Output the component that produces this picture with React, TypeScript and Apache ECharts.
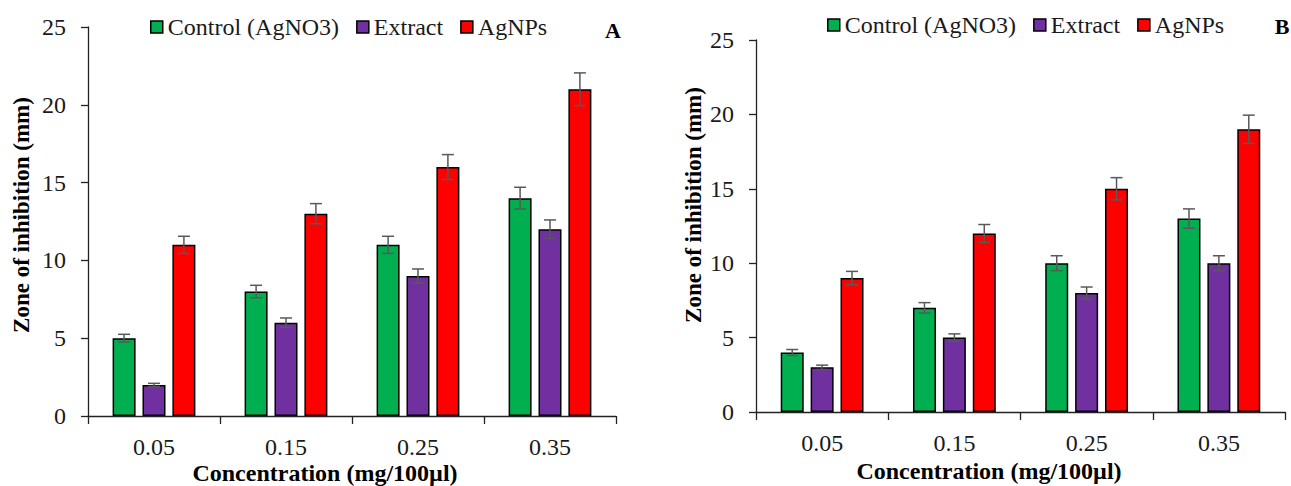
import React, { useEffect, useRef } from "react";
import * as echarts from "echarts";

const categories = ["0.05", "0.15", "0.25", "0.35"];
const seriesNames = ["Control (AgNO3)", "Extract", "AgNPs"];
const seriesColors = ["#00B050", "#7030A0", "#FF0000"];

const controlA = [5, 8, 11, 14];
const controlAErr = [0.25, 0.4, 0.55, 0.7];
const extractA = [2, 6, 9, 12];
const extractAErr = [0.1, 0.3, 0.45, 0.6];
const agnpsA = [11, 13, 16, 21];
const agnpsAErr = [0.55, 0.65, 0.8, 1.05];

const controlB = [4, 7, 10, 13];
const controlBErr = [0.2, 0.35, 0.5, 0.65];
const extractB = [3, 5, 8, 10];
const extractBErr = [0.15, 0.25, 0.4, 0.5];
const agnpsB = [9, 12, 15, 19];
const agnpsBErr = [0.45, 0.6, 0.75, 0.95];

const yTicks = { min: 0, max: 25, interval: 5 };

const FONT = "'Liberation Serif', 'Times New Roman', serif";
const TEXT = "#1a1a1a";
const BAR_W = 23;
const BAR_GAP = 0.3;

function App() {
  const ref = useRef<HTMLDivElement>(null);
  useEffect(() => {
    document.body.style.margin = "0";
    if (!ref.current) return;
    const chart = echarts.init(ref.current, null, { renderer: "svg" });

    const panels = [
      { vals: [controlA, extractA, agnpsA], errs: [controlAErr, extractAErr, agnpsAErr] },
      { vals: [controlB, extractB, agnpsB], errs: [controlBErr, extractBErr, agnpsBErr] },
    ];

    const step = BAR_W * (1 + BAR_GAP);
    const series: any[] = [];
    panels.forEach((p, gi) => {
      p.vals.forEach((vals, si) => {
        series.push({
          type: "bar",
          name: seriesNames[si],
          xAxisIndex: gi,
          yAxisIndex: gi,
          data: vals,
          barWidth: BAR_W,
          barGap: BAR_GAP * 100 + "%",
          itemStyle: { color: seriesColors[si], borderColor: "#000", borderWidth: 1.5 },
          z: 2,
        });
      });
      p.vals.forEach((vals, si) => {
        const offset = (si - 1) * step;
        series.push({
          type: "custom",
          name: "err" + gi + si,
          xAxisIndex: gi,
          yAxisIndex: gi,
          z: 5,
          data: vals.map((v, i) => [i, v, p.errs[si][i]]),
          encode: { x: 0, y: 1 },
          renderItem: (params: any, api: any) => {
            const idx = api.value(0);
            const v = api.value(1);
            const e = api.value(2);
            const x = api.coord([idx, v])[0] + offset;
            const yt = api.coord([idx, v + e])[1];
            const yb = api.coord([idx, v - e])[1];
            const st = { stroke: "#595959", lineWidth: 1.5 };
            return {
              type: "group",
              children: [
                { type: "line", shape: { x1: x, y1: yt, x2: x, y2: yb }, style: st },
                { type: "line", shape: { x1: x - 6, y1: yt, x2: x + 6, y2: yt }, style: st },
                { type: "line", shape: { x1: x - 6, y1: yb, x2: x + 6, y2: yb }, style: st },
              ],
            };
          },
        });
      });
    });

    const xAxisBase = (gi: number) => ({
      type: "category",
      gridIndex: gi,
      data: categories,
      boundaryGap: true,
      axisLine: { lineStyle: { color: "#222", width: 1.3 } },
      axisTick: { show: true, length: 8, interval: 0, alignWithLabel: false, lineStyle: { color: "#222", width: 1.3 } },
      axisLabel: { fontFamily: FONT, fontSize: 24, color: TEXT, margin: 19 },
      splitLine: { show: false },
    });
    const yAxisBase = (gi: number) => ({
      type: "value",
      gridIndex: gi,
      min: yTicks.min,
      max: yTicks.max,
      interval: yTicks.interval,
      axisLine: { show: true, lineStyle: { color: "#222", width: 1.3 } },
      axisTick: { show: true, length: 7, lineStyle: { color: "#222", width: 1.3 } },
      axisLabel: { fontFamily: FONT, fontSize: 24, color: TEXT, margin: 22 },
      splitLine: { show: false },
    });

    const legendBase = (left: number, top: number) => ({
      left,
      top,
      padding: 0,
      itemGap: 17,
      itemWidth: 12,
      itemHeight: 12,
      icon: "rect",
      data: seriesNames,
      textStyle: { fontFamily: FONT, fontSize: 24, color: TEXT },
      itemStyle: { borderColor: "#000", borderWidth: 1.5 },
    });

    const titleText = (x: number, y: number, text: string, size: number, rotate = false) => ({
      type: "text",
      x,
      y,
      rotation: rotate ? Math.PI / 2 : 0,
      style: {
        text,
        fontFamily: FONT,
        fontSize: size,
        fontWeight: "bold",
        fill: "#000",
        align: "center",
        verticalAlign: "middle",
      },
    });

    chart.setOption({
      animation: false,
      backgroundColor: "#fff",
      grid: [
        { left: 88, top: 27, width: 528, height: 389 },
        { left: 756, top: 40, width: 529, height: 372 },
      ],
      xAxis: [xAxisBase(0), xAxisBase(1)],
      yAxis: [yAxisBase(0), yAxisBase(1)],
      legend: [legendBase(150, 15), legendBase(827, 13)],
      graphic: [
        titleText(325, 473, "Concentration (mg/100µl)", 24),
        titleText(989, 471, "Concentration (mg/100µl)", 24),
        titleText(21, 215, "Zone of inhibition (mm)", 23, true),
        titleText(693, 205, "Zone of inhibition (mm)", 23, true),
        titleText(613, 30, "A", 22),
        titleText(1282, 26, "B", 22),
      ],
      series,
    });
    return () => chart.dispose();
  }, []);
  return <div ref={ref} style={{ width: 1291, height: 486 }} />;
}

export default App;
